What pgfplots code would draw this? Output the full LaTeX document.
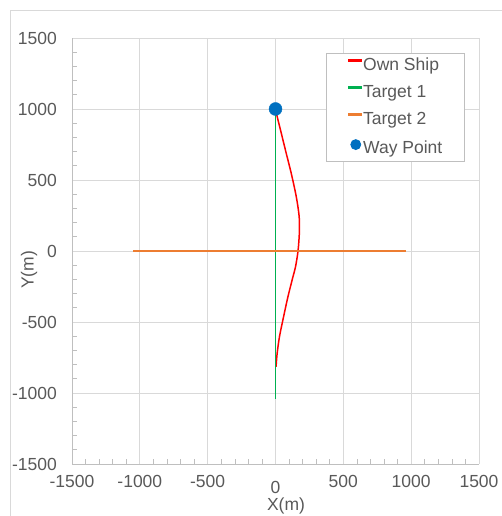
\documentclass[border=0pt]{standalone}
\usepackage{fontspec}
\setmainfont{Liberation Sans}
\usepackage{pgfplots}
\pgfplotsset{compat=1.18}
\definecolor{gridgray}{HTML}{D9D9D9}
\definecolor{axisgray}{HTML}{BFBFBF}
\definecolor{textgray}{HTML}{595959}
\definecolor{ownred}{HTML}{FF0000}
\definecolor{grnline}{RGB}{0,176,80}
\definecolor{torange}{HTML}{ED7D31}
\definecolor{wblue}{HTML}{0070C0}
\pgfplotsset{
  redleg/.style={legend image code/.code={\fill[ownred] (0pt,4.75pt) rectangle (13pt,6.25pt);}},
  greenleg/.style={legend image code/.code={\fill[grnline] (0pt,4.75pt) rectangle (13pt,6.25pt);}},
  orangeleg/.style={legend image code/.code={\fill[torange] (0pt,4.75pt) rectangle (13pt,6.25pt);}},
  dotleg/.style={legend image code/.code={\fill[wblue] (7pt,4.5pt) circle (5pt);}},
}
\begin{document}
\begin{tikzpicture}[x=1pt,y=1pt,color=textgray]
\path[use as bounding box] (0,0) rectangle (502,516);
\draw[gridgray, line width=0.8pt] (10.5,-10) rectangle (530,505.5);
\begin{axis}[
  at={(72pt,52pt)}, anchor=south west,
  scale only axis, width=407pt, height=426pt,
  xmin=-1500, xmax=1500, ymin=-1500, ymax=1500,
  xtick={-1500,-1000,-500,0,500,1000,1500},
  ytick={-1500,-1000,-500,0,500,1000,1500},
  xticklabels={-1500,-1000,-500,\raisebox{-6pt}{0},500,1000,1500},
  yticklabels={-1500,-1000,-500,0,500,1000,1500},
  minor tick num=4,
  axis x line*=bottom, axis y line*=left,
  axis line style={axisgray, line width=0.8pt},
  grid=major,
  major grid style={gridgray, line width=0.8pt},
  tick align=inside,
  major tick length=0pt,
  minor tick length=4.5pt,
  minor tick style={axisgray, line width=0.6pt},
  tick label style={font=\fontsize{17.5}{20}\selectfont, inner sep=0pt},
  xticklabel style={anchor=north, yshift=-11pt, text height=12.5pt},
  yticklabel style={anchor=east, xshift=-15pt},
  legend style={at={(0.624,0.9655)}, anchor=north west,
    draw=axisgray, line width=0.8pt, fill=white,
    inner xsep=22pt, inner ysep=4.5pt, row sep=11pt, column sep=1pt,
    font=\fontsize{17.5}{20}\selectfont,
    nodes={inner sep=0pt, text height=12.5pt, text depth=3.7pt}},
  legend cell align=left,
]
\addlegendimage{redleg}
\addlegendentry{Own Ship}
\addlegendimage{greenleg}
\addlegendentry{Target 1}
\addlegendimage{orangeleg}
\addlegendentry{Target 2}
\addlegendimage{dotleg}
\addlegendentry{Way Point}
\addplot[forget plot, draw=ownred, line width=1.5pt, smooth]
  coordinates {
  (4,-815) (12,-722) (29,-605) (54,-488) (91,-325) (128,-184) (147,-114)
  (166,0) (176,131) (174,247) (152,388) (115,551) (78,692) (42,832) (12,948) (0,1000)
  };
\addplot[forget plot, fill=grnline, draw=none]
  coordinates {(-6,-1040) (6,-1040) (6,1000) (-6,1000)} -- cycle;
\addplot[forget plot, fill=torange, draw=none]
  coordinates {(-1050,-5.6) (960,-5.6) (960,5.6) (-1050,5.6)} -- cycle;
\addplot[forget plot, only marks, mark=*, mark size=6.5pt, mark options={fill=wblue, draw=wblue}]
  coordinates {(0,1000)};
\end{axis}
\node[rotate=90, font=\fontsize{17.5}{20}\selectfont, inner sep=0pt] at (29,246) {Y(m)};
\node[font=\fontsize{17.5}{20}\selectfont, inner sep=0pt] at (286,10.5) {X(m)};
\end{tikzpicture}
\end{document}
